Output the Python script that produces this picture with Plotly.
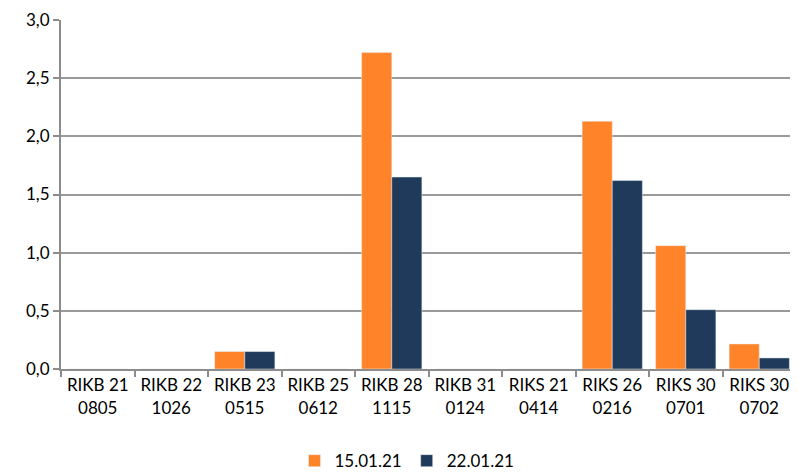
import plotly.graph_objects as go

categories = ["RIKB 21<br>0805", "RIKB 22<br>1026", "RIKB 23<br>0515", "RIKB 25<br>0612",
              "RIKB 28<br>1115", "RIKB 31<br>0124", "RIKS 21<br>0414", "RIKS 26<br>0216",
              "RIKS 30<br>0701", "RIKS 30<br>0702"]
s1_name = "15.01.21"
s1_vals = [0, 0, 0.15, 0, 2.72, 0, 0, 2.13, 1.06, 0.215]
s2_name = "22.01.21"
s2_vals = [0, 0, 0.15, 0, 1.65, 0, 0, 1.62, 0.51, 0.095]
y_ticks = [0, 0.5, 1.0, 1.5, 2.0, 2.5, 3.0]

fig = go.Figure()
fig.add_trace(go.Bar(x=categories, y=s1_vals, name=s1_name, marker_color="#FF8429"))
fig.add_trace(go.Bar(x=categories, y=s2_vals, name=s2_name, marker_color="#1F3A5A"))

# margins compensate for the page body offset; legend placed in container coords
fig.update_layout(
    width=798, height=472,
    margin=dict(l=53, r=10, t=12, b=111),
    paper_bgcolor="white", plot_bgcolor="white",
    font=dict(family="Lato, Open Sans, sans-serif", size=17, color="#000000"),
    separators=",.",
    barmode="group", bargap=0.18, bargroupgap=0,
    showlegend=True,
    legend=dict(orientation="h", x=0.5, xanchor="center", xref="container",
                y=0.04, yanchor="middle", yref="container",
                font=dict(size=17), itemwidth=30),
)
fig.update_xaxes(
    showgrid=False, showline=True, linecolor="#8c8c8c", linewidth=2,
    ticks="outside", tickson="boundaries", ticklen=6, tickcolor="#8c8c8c", tickwidth=2,
    tickfont=dict(size=17), automargin=False,
)
fig.update_yaxes(
    range=[0, 3.0], tickvals=y_ticks, tickformat=".1f",
    showgrid=True, gridcolor="#9a9a9a", gridwidth=2,
    showline=True, linecolor="#8c8c8c", linewidth=2,
    ticks="outside", ticklen=6, tickcolor="#8c8c8c", tickwidth=2,
    zeroline=False, tickfont=dict(size=17), automargin=False,
    ticklabeloverflow="allow",
)

fig.write_html("out.html")
